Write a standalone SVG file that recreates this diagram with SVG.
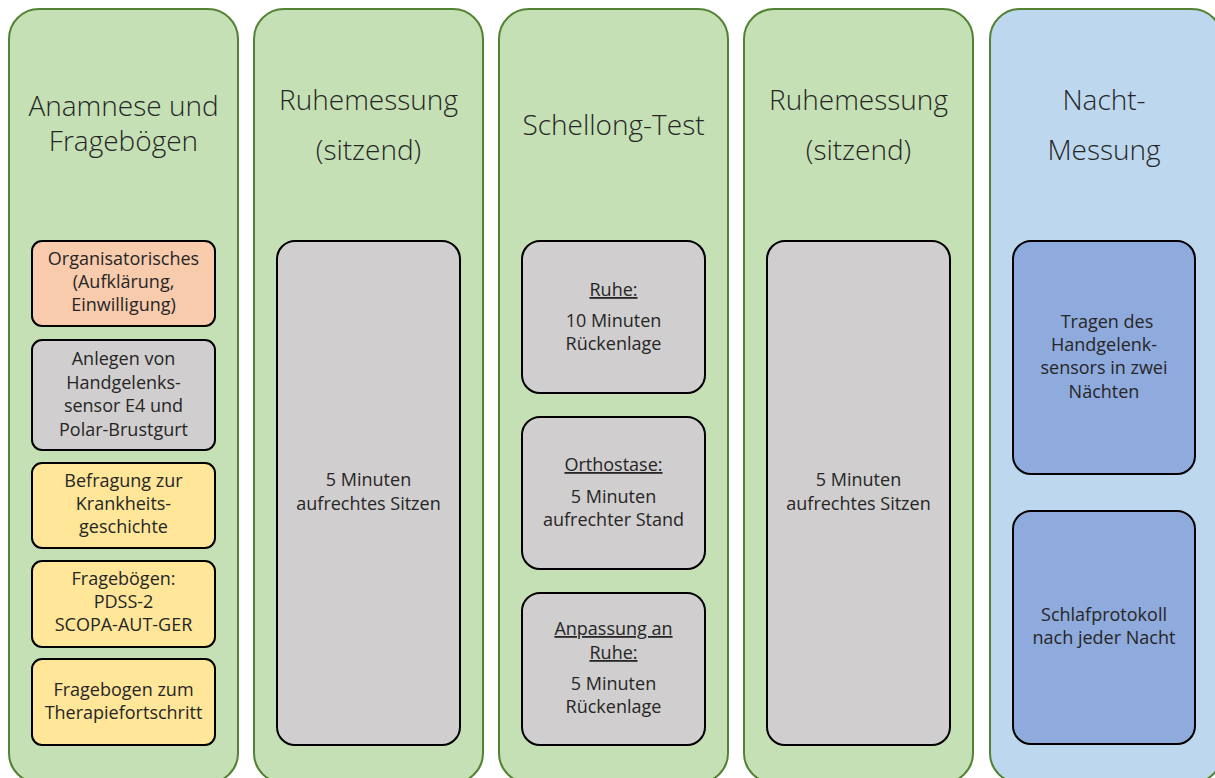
<svg xmlns="http://www.w3.org/2000/svg" width="1215" height="778" viewBox="0 0 1215 778">
<style>
.col{fill:#C5E0B4;stroke:#548235;stroke-width:2}
.colb{fill:#BDD7EE;stroke:#548235;stroke-width:2}
.box{stroke:#000;stroke-width:2}
.gray{fill:#D0CECE}
.orange{fill:#F8CBAD}
.yellow{fill:#FFE699}
.blue{fill:#8FAADC}
text{font-family:"Open Sans","Liberation Sans",sans-serif;fill:#262626;text-anchor:middle}
.t{font-size:28px;font-weight:300}
.s{font-size:18px;font-weight:400}
.u{text-decoration:underline}
</style>
<rect width="1215" height="778" fill="#fff"/>
<g id="col1">
<rect class="col" x="9" y="9" width="229" height="774" rx="30"/>
<text class="t" x="123.5" y="116">Anamnese und</text>
<text class="t" x="123.5" y="151">Fragebögen</text>
</g>
<g id="col2">
<rect class="col" x="254" y="9" width="229" height="774" rx="30"/>
<text class="t" x="368.5" y="110">Ruhemessung</text>
<text class="t" x="368.5" y="160">(sitzend)</text>
</g>
<g id="col3">
<rect class="col" x="499" y="9" width="229" height="774" rx="30"/>
<text class="t" x="613.5" y="135">Schellong-Test</text>
</g>
<g id="col4">
<rect class="col" x="744" y="9" width="229" height="774" rx="30"/>
<text class="t" x="858.5" y="110">Ruhemessung</text>
<text class="t" x="858.5" y="160">(sitzend)</text>
</g>
<g id="col5">
<rect class="colb" x="990" y="9" width="232" height="774" rx="30"/>
<text class="t" x="1104" y="110">Nacht-</text>
<text class="t" x="1104" y="160">Messung</text>
</g>
<g id="n-org">
<rect class="box orange" x="32" y="241" width="183" height="85" rx="10"/>
<text class="s" x="123.5" y="265">Organisatorisches</text>
<text class="s" x="123.5" y="288">(Aufklärung,</text>
<text class="s" x="123.5" y="311">Einwilligung)</text>
</g>
<g id="n-anlegen">
<rect class="box gray" x="32" y="340" width="183" height="110" rx="10"/>
<text class="s" x="123.5" y="365">Anlegen von</text>
<text class="s" x="123.5" y="389">Handgelenks-</text>
<text class="s" x="123.5" y="412">sensor E4 und</text>
<text class="s" x="123.5" y="436">Polar-Brustgurt</text>
</g>
<g id="n-befragung">
<rect class="box yellow" x="32" y="463" width="183" height="85" rx="10"/>
<text class="s" x="123.5" y="487">Befragung zur</text>
<text class="s" x="123.5" y="510">Krankheits-</text>
<text class="s" x="123.5" y="533">geschichte</text>
</g>
<g id="n-frageboegen">
<rect class="box yellow" x="32" y="561" width="183" height="86" rx="10"/>
<text class="s" x="123.5" y="585">Fragebögen:</text>
<text class="s" x="123.5" y="608">PDSS-2</text>
<text class="s" x="123.5" y="631">SCOPA-AUT-GER</text>
</g>
<g id="n-therapie">
<rect class="box yellow" x="32" y="659" width="183" height="86" rx="10"/>
<text class="s" x="123.5" y="696">Fragebogen zum</text>
<text class="s" x="123.5" y="719">Therapiefortschritt</text>
</g>
<g id="n-ruhe1">
<rect class="box gray" x="277" y="241" width="183" height="504" rx="18"/>
<text class="s" x="368.5" y="486">5 Minuten</text>
<text class="s" x="368.5" y="510">aufrechtes Sitzen</text>
</g>
<g id="n-ruhe">
<rect class="box gray" x="522" y="241" width="183" height="152" rx="18"/>
<text class="s u" x="613.5" y="296">Ruhe:</text>
<text class="s" x="613.5" y="327">10 Minuten</text>
<text class="s" x="613.5" y="350">Rückenlage</text>
</g>
<g id="n-orthostase">
<rect class="box gray" x="522" y="417" width="183" height="152" rx="18"/>
<text class="s u" x="613.5" y="471">Orthostase:</text>
<text class="s" x="613.5" y="503">5 Minuten</text>
<text class="s" x="613.5" y="526">aufrechter Stand</text>
</g>
<g id="n-anpassung">
<rect class="box gray" x="522" y="593" width="183" height="152" rx="18"/>
<text class="s u" x="613.5" y="635">Anpassung an</text>
<text class="s u" x="613.5" y="659">Ruhe:</text>
<text class="s" x="613.5" y="690">5 Minuten</text>
<text class="s" x="613.5" y="713">Rückenlage</text>
</g>
<g id="n-ruhe2">
<rect class="box gray" x="767" y="241" width="183" height="504" rx="18"/>
<text class="s" x="858.5" y="486">5 Minuten</text>
<text class="s" x="858.5" y="510">aufrechtes Sitzen</text>
</g>
<g id="n-tragen">
<rect class="box blue" x="1013" y="241" width="182" height="233" rx="18"/>
<text class="s" x="1107" y="328">Tragen des</text>
<text class="s" x="1104" y="351">Handgelenk-</text>
<text class="s" x="1104" y="374">sensors in zwei</text>
<text class="s" x="1104" y="398">Nächten</text>
</g>
<g id="n-schlaf">
<rect class="box blue" x="1013" y="511" width="182" height="233" rx="18"/>
<text class="s" x="1104" y="621">Schlafprotokoll</text>
<text class="s" x="1104" y="644">nach jeder Nacht</text>
</g>
<g id="connectors"></g>
</svg>
